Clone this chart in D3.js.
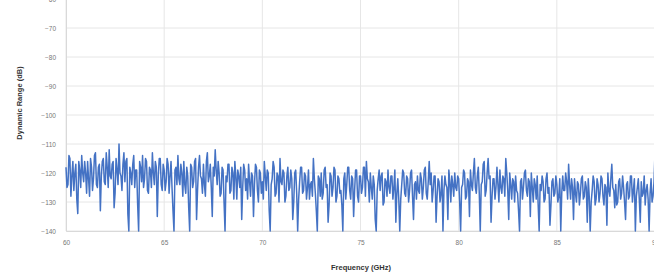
<!DOCTYPE html>
<html><head><meta charset="utf-8">
<script src="https://cdn.jsdelivr.net/npm/d3@7"></script>
<style>html,body{margin:0;padding:0;background:#fff;overflow:hidden}</style>
</head><body>
<svg id="c" width="654" height="279"></svg>
<script>
const xTicks = [60, 65, 70, 75, 80, 85, 90];
const yTicks = [-140, -130, -120, -110, -100, -90, -80, -70, -60];
const freqStart = 60, freqStep = 0.05;
const dynamicRange = [
-118,-125,-124,-114,-115,-128,-121,-116,-126,-120,-117,-129,-134,-116,-119,-125,-114,-120,-123,-116,
-120,-127,-116,-122,-128,-115,-118,-126,-122,-114,-113,-124,-125,-118,-117,-133,-121,-116,-115,-123,
-124,-113,-118,-125,-112,-121,-122,-117,-116,-132,-127,-115,-119,-124,-110,-120,-121,-126,-117,-113,
-123,-116,-115,-134,-140,-118,-120,-124,-117,-114,-125,-119,-119,-131,-140,-116,-118,-123,-114,-125,
-122,-115,-116,-126,-127,-118,-119,-125,-113,-120,-124,-116,-118,-135,-121,-115,-115,-124,-126,-117,
-119,-126,-123,-115,-117,-127,-121,-116,-125,-133,-140,-119,-118,-124,-114,-122,-124,-117,-120,-128,
-116,-124,-127,-118,-121,-132,-140,-117,-118,-125,-123,-116,-115,-136,-126,-118,-114,-121,-122,-127,
-117,-124,-128,-116,-113,-123,-121,-117,-125,-135,-118,-121,-112,-119,-124,-116,-120,-128,-127,-118,
-119,-130,-140,-121,-123,-117,-117,-127,-126,-118,-120,-129,-116,-121,-129,-119,-121,-125,-118,-136,
-125,-117,-119,-126,-122,-129,-117,-123,-128,-120,-121,-135,-124,-117,-118,-126,-130,-119,-120,-127,
-123,-129,-116,-121,-126,-119,-120,-133,-140,-124,-122,-116,-118,-128,-127,-120,-121,-130,-115,-123,
-124,-119,-120,-130,-128,-121,-118,-126,-125,-119,-122,-136,-130,-120,-119,-127,-140,-129,-123,-118,
-118,-127,-126,-120,-121,-129,-125,-119,-129,-124,-123,-128,-115,-122,-127,-133,-140,-121,-122,-128,
-120,-129,-127,-119,-118,-125,-124,-137,-131,-120,-121,-128,-125,-118,-119,-130,-128,-121,-122,-127,
-126,-131,-140,-122,-120,-129,-124,-118,-118,-126,-129,-121,-122,-135,-126,-119,-119,-128,-130,-121,
-121,-127,-125,-118,-118,-128,-116,-122,-123,-130,-120,-125,-129,-121,-124,-136,-140,-126,-122,-119,
-126,-121,-120,-131,-130,-122,-123,-128,-119,-125,-127,-121,-121,-129,-125,-119,-137,-127,-122,-129,
-140,-129,-124,-119,-120,-127,-128,-121,-122,-130,-126,-120,-119,-128,-136,-124,-123,-129,-121,-126,
-127,-120,-122,-129,-125,-119,-118,-127,-129,-123,-116,-124,-120,-130,-126,-121,-121,-137,-128,-122,
-123,-130,-127,-121,-140,-126,-121,-124,-125,-136,-119,-123,-130,-121,-124,-128,-120,-125,-126,-121,
-122,-130,-140,-125,-124,-119,-120,-129,-128,-122,-123,-135,-119,-124,-126,-120,-115,-125,-127,-121,
-118,-127,-140,-124,-123,-117,-116,-128,-126,-120,-115,-122,-121,-137,-128,-122,-122,-129,-125,-118,
-124,-130,-119,-125,-127,-121,-122,-128,-115,-120,-126,-136,-120,-124,-129,-122,-123,-130,-121,-126,
-127,-133,-140,-123,-122,-129,-125,-120,-119,-126,-128,-122,-123,-135,-120,-125,-130,-122,-124,-129,
-121,-131,-140,-124,-126,-121,-123,-130,-129,-122,-120,-127,-125,-138,-131,-123,-122,-128,-127,-121,
-124,-130,-128,-122,-140,-127,-121,-126,-126,-120,-123,-129,-117,-124,-129,-122,-125,-136,-122,-127,
-130,-123,-124,-131,-127,-122,-121,-129,-128,-123,-125,-137,-122,-128,-140,-130,-126,-121,-123,-131,
-129,-122,-124,-130,-127,-121,-122,-128,-131,-124,-125,-138,-120,-126,-128,-122,-117,-125,-126,-132,
-124,-131,-130,-123,-122,-129,-127,-121,-125,-130,-136,-124,-123,-129,-128,-121,-121,-130,-126,-122,
-140,-128,-125,-122,-129,-137,-123,-128,-127,-121,-131,-126,-124,-129,-140,-127,-122,-130,-128,-123,
-113
];

const svg = d3.select("#c");
const x = d3.scaleLinear().domain([60, 90]).range([66, 655]);
const y = d3.scaleLinear().domain([-140, -60]).range([231, -1]);

svg.append("g").selectAll("line").data(yTicks).join("line")
  .attr("x1", x(60)).attr("x2", x(90))
  .attr("y1", d => y(d)).attr("y2", d => y(d))
  .attr("stroke", "#e6e6e6").attr("stroke-width", 1);
svg.append("g").selectAll("line").data(xTicks).join("line")
  .attr("y1", y(-60)).attr("y2", y(-140))
  .attr("x1", d => x(d)).attr("x2", d => x(d))
  .attr("stroke", "#e6e6e6").attr("stroke-width", 1);

const font = "Liberation Sans, Arial, sans-serif";
const xAxis = d3.axisBottom(x).tickValues(xTicks).tickSize(0).tickPadding(9);
const gx = svg.append("g").attr("transform", `translate(0,${y(-140)})`).call(xAxis);
gx.select(".domain").attr("stroke", "#d9d9d9");
gx.selectAll("text").attr("font-family", font).attr("font-size", 6.5).attr("fill", "#777");

const yAxis = d3.axisLeft(y).tickValues(yTicks).tickSize(0).tickPadding(10);
const gy = svg.append("g").attr("transform", `translate(${x(60)},0)`).call(yAxis);
gy.select(".domain").attr("stroke", "#d9d9d9");
gy.selectAll("text").attr("font-family", font).attr("font-size", 6.5).attr("fill", "#777");

const pts = dynamicRange.map((v, i) => [freqStart + i * freqStep, v]);
svg.append("path").datum(pts)
  .attr("fill", "none").attr("stroke", "#4472c4").attr("stroke-width", 1.5)
  .attr("stroke-linejoin", "round")
  .attr("d", d3.line().x(d => x(d[0])).y(d => y(d[1])));

svg.append("text").attr("x", 361).attr("y", 270).attr("text-anchor", "middle")
  .attr("font-family", font).attr("font-size", 7.5)
  .attr("font-weight", "bold").attr("fill", "#333").text("Frequency (GHz)");
svg.append("text").attr("transform", "translate(22,103) rotate(-90)").attr("text-anchor", "middle")
  .attr("font-family", font).attr("font-size", 7.5)
  .attr("font-weight", "bold").attr("fill", "#333").text("Dynamic Range (dB)");
</script>
</body></html>
